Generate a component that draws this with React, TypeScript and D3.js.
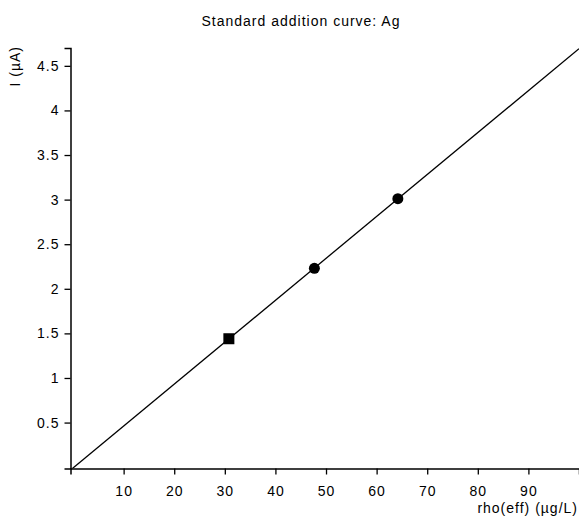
import React, { useRef, useEffect } from 'react';
import * as d3 from 'd3';

// sample measurement (square) and standard additions (circles)
const sampleX = [30.8];
const sampleY = [1.44];
const addX = [47.7, 64.2];
const addY = [2.23, 3.01];

const xTicks = [10, 20, 30, 40, 50, 60, 70, 80, 90];
const yTicks = [0.5, 1, 1.5, 2, 2.5, 3, 3.5, 4, 4.5];

const title = 'Standard addition curve: Ag';
const xLabel = 'rho(eff) (µg/L)';
const yLabel = 'I (µA)';

const W = 579, H = 520;
const margin = { l: 70.5, r: 0, t: 48, b: 51.5 };
const FONT = '"Liberation Sans", Arial, sans-serif';

export default function App() {
    const svg_ref = useRef<SVGSVGElement>(null);
    useEffect(() => draw(svg_ref.current), []);
    return (
        <svg ref={svg_ref} width={W} height={H}
            style={{ position: 'absolute', left: 0, top: 0, background: '#fff' }} />
    );
}

function draw(node: SVGSVGElement | null) {
    if (!node) return;
    const svg = d3.select(node);
    svg.selectAll('*').remove();

    const x = d3.scaleLinear().domain([-0.5, 100]).range([margin.l, W - margin.r]);
    const y = d3.scaleLinear().domain([-0.015, 4.7]).range([H - margin.b, margin.t]);

    // least squares line through all points
    const xs = sampleX.concat(addX);
    const ys = sampleY.concat(addY);
    const mx = d3.mean(xs)!, my = d3.mean(ys)!;
    const sxy = d3.sum(xs, (v, i) => (v - mx) * (ys[i] - my));
    const sxx = d3.sum(xs, v => (v - mx) * (v - mx));
    const slope = sxy / sxx;
    const icept = my - slope * mx;
    const lineX = x.domain();

    svg.append('clipPath').attr('id', 'plotclip')
        .append('rect')
        .attr('x', margin.l).attr('y', margin.t)
        .attr('width', W - margin.r - margin.l)
        .attr('height', H - margin.b - margin.t);

    const line = d3.line<number>()
        .x(d => x(d))
        .y(d => y(slope * d + icept));

    svg.append('path')
        .attr('d', line(lineX))
        .attr('clip-path', 'url(#plotclip)')
        .attr('fill', 'none')
        .attr('stroke', '#000')
        .attr('stroke-width', 1.3);

    const xAxis = svg.append('g')
        .attr('transform', `translate(0,${H - margin.b})`)
        .call(d3.axisBottom(x).tickValues(xTicks).tickSizeOuter(0).tickSize(6).tickPadding(12));
    const yAxis = svg.append('g')
        .attr('transform', `translate(${margin.l},0)`)
        .call(d3.axisLeft(y).tickValues(yTicks).tickSizeOuter(0).tickSize(6).tickPadding(5)
            .tickFormat(d => String(d)));

    [xAxis, yAxis].forEach(g => {
        g.selectAll('path.domain').attr('stroke', '#000').attr('stroke-width', 1.5);
        g.selectAll('.tick line').attr('stroke', '#000').attr('stroke-width', 1.3);
        g.selectAll('.tick text')
            .attr('fill', '#000')
            .style('font-family', FONT)
            .style('font-size', '14px')
            .style('letter-spacing', '1px');
    });

    svg.selectAll('circle.add')
        .data(addX)
        .join('circle')
        .attr('class', 'add')
        .attr('cx', d => x(d))
        .attr('cy', (d, i) => y(addY[i]))
        .attr('r', 5.5)
        .attr('fill', '#000');

    const sq = 11;
    svg.selectAll('rect.sample')
        .data(sampleX)
        .join('rect')
        .attr('class', 'sample')
        .attr('x', d => x(d) - sq / 2)
        .attr('y', (d, i) => y(sampleY[i]) - sq / 2)
        .attr('width', sq)
        .attr('height', sq)
        .attr('fill', '#000');

    const txt = (s: string) => svg.append('text')
        .text(s)
        .attr('fill', '#000')
        .style('font-family', FONT)
        .style('font-size', '14px')
        .style('letter-spacing', '1px');

    txt(title).attr('x', 301).attr('y', 26).attr('text-anchor', 'middle');
    txt(xLabel).attr('x', W - 1).attr('y', 513).attr('text-anchor', 'end');
    txt(yLabel).attr('text-anchor', 'end')
        .attr('transform', `translate(20,46) rotate(-90)`);
}
